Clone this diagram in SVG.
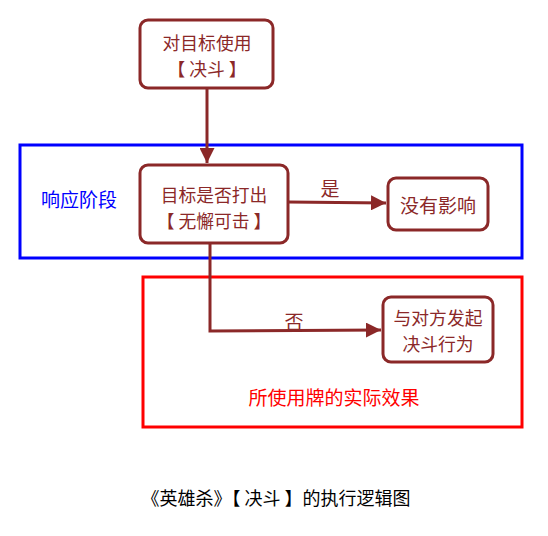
<svg xmlns="http://www.w3.org/2000/svg" width="548" height="536" viewBox="0 0 548 536">
<defs>
<marker id="ah" viewBox="0 0 10 10" refX="10" refY="5" markerWidth="5" markerHeight="5" orient="auto" markerUnits="strokeWidth">
<path d="M0,0 L10,5 L0,10 z" fill="#8B2828"/>
</marker>
<style>
.t{font-family:"Noto Sans CJK SC","Noto Sans CJK JP",serif;font-size:19px;text-anchor:middle;dominant-baseline:central}
.n{fill:#fff;stroke:#8B2828;stroke-width:3}
.nt{fill:#8B2828}
.m{font-size:17.8px}
.c{fill:none;stroke:#8B2828;stroke-width:3}
</style>
</defs>
<rect width="548" height="536" fill="#fff"/>
<g id="group-response">
<rect x="20" y="145" width="502" height="113" fill="none" stroke="#0000FF" stroke-width="3"/>
<text class="t" x="79" y="198" fill="#0000FF">响应阶段</text>
</g>
<g id="group-effect">
<rect x="143" y="277" width="379" height="150" fill="none" stroke="#FF0000" stroke-width="3"/>
<text class="t" x="334" y="396" fill="#FF0000">所使用牌的实际效果</text>
</g>
<g id="connectors">
<path class="c" d="M207,88 L207,163" marker-end="url(#ah)"/>
<path class="c" d="M288,202 L386,203" marker-end="url(#ah)"/>
<text class="t nt" x="330" y="187">是</text>
<path class="c" d="M210,243 L210,331 L381,330" marker-end="url(#ah)"/>
<text class="t nt" x="294" y="320">否</text>
</g>
<g id="node-start">
<rect class="n" x="140" y="20" width="133" height="68" rx="8"/>
<text class="t nt m" x="207" y="42">对目标使用</text>
<text class="t nt m" x="207" y="68">【 决斗 】</text>
</g>
<g id="node-check">
<rect class="n" x="140" y="165" width="148" height="78" rx="8"/>
<text class="t nt m" x="214" y="194">目标是否打出</text>
<text class="t nt m" x="214" y="220">【 无懈可击 】</text>
</g>
<g id="node-none">
<rect class="n" x="388" y="178" width="100" height="52" rx="8"/>
<text class="t nt" x="438" y="204">没有影响</text>
</g>
<g id="node-duel">
<rect class="n" x="383" y="297" width="110" height="65" rx="8"/>
<text class="t nt m" x="438" y="317">与对方发起</text>
<text class="t nt m" x="438" y="343">决斗行为</text>
</g>
<g id="title">
<text class="t" x="276" y="497" fill="#000" style="font-size:18px">《英雄杀》【 决斗 】的执行逻辑图</text>
</g>
</svg>
